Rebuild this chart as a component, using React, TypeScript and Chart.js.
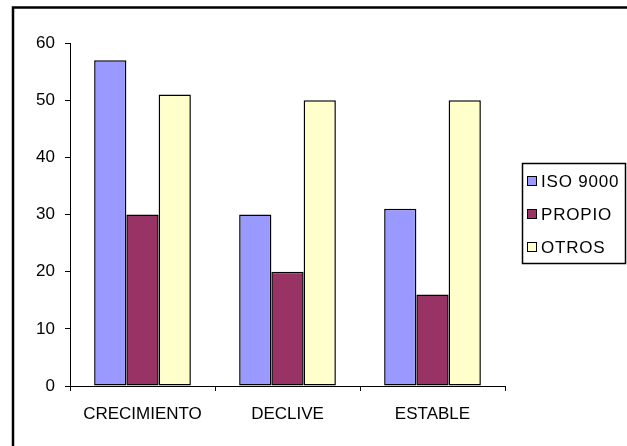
import React, { useEffect, useRef } from "react";
import { Chart, registerables } from "chart.js";

Chart.register(...registerables);

const categories = ["CRECIMIENTO", "DECLIVE", "ESTABLE"];
const seriesNames = ["ISO 9000", "PROPIO", "OTROS"];
const iso9000 = [57, 30, 31];
const propio = [30, 20, 16];
const otros = [51, 50, 50];
const yTicks = [0, 10, 20, 30, 40, 50, 60];
const colors = ["#9999FF", "#993366", "#FFFFCC"];

const FONT = "Liberation Sans, Arial, sans-serif";

const frameAndLegend = {
  id: "frameAndLegend",
  beforeDraw(chart: any) {
    const ctx = chart.ctx;
    ctx.save();
    ctx.fillStyle = "#ffffff";
    ctx.fillRect(0, 0, chart.width, chart.height);
    ctx.restore();
  },
  afterDraw(chart: any) {
    const ctx = chart.ctx;
    ctx.save();
    // outer frame (top and left visible)
    ctx.strokeStyle = "#000";
    ctx.lineWidth = 2.5;
    ctx.beginPath();
    ctx.moveTo(13, chart.height + 5);
    ctx.lineTo(13, 7.5);
    ctx.lineTo(chart.width + 5, 7.5);
    ctx.stroke();

    // legend box
    const lx = 522, ly = 163, lw = 103, lh = 100;
    ctx.lineWidth = 1.5;
    ctx.strokeRect(lx + 0.5, ly + 0.5, lw, lh);
    const rows = [181, 214, 247];
    ctx.font = `17px ${FONT}`;
    (ctx as any).letterSpacing = "0.8px";
    ctx.textBaseline = "middle";
    ctx.textAlign = "left";
    chart.data.datasets.forEach((ds: any, i: number) => {
      const y = rows[i];
      ctx.fillStyle = ds.backgroundColor;
      ctx.fillRect(527, y - 4.5, 9, 9);
      ctx.lineWidth = 1;
      ctx.strokeStyle = "#000";
      ctx.strokeRect(527.5, y - 4.5, 9, 9);
      ctx.fillStyle = "#000";
      ctx.fillText(ds.label, 541, y + 1);
    });
    ctx.restore();
  },
};

export default function App() {
  const ref = useRef<HTMLCanvasElement | null>(null);
  useEffect(() => {
    if (!ref.current) return;
    const values = [iso9000, propio, otros];
    const chart = new Chart(ref.current, {
      type: "bar",
      data: {
        labels: categories,
        datasets: seriesNames.map((name, i) => ({
          label: name,
          data: values[i],
          backgroundColor: colors[i],
          borderColor: "#000",
          borderWidth: 1.5,
          borderSkipped: false,
          categoryPercentage: 0.667,
          barPercentage: 1.0,
        })),
      },
      options: {
        responsive: false,
        animation: false,
        layout: { padding: { left: 0, right: 122, top: 43, bottom: 0 } },
        plugins: {
          legend: { display: false },
          tooltip: { enabled: false },
        },
        scales: {
          x: {
            afterFit: (s: any) => {
              s.height = 60;
            },
            border: { display: true, color: "#000", width: 1 },
            grid: {
              display: true,
              drawOnChartArea: false,
              drawTicks: true,
              tickLength: 5,
              color: "#000",
              offset: true,
            },
            ticks: {
              color: "#000",
              font: { family: FONT, size: 17 },
              padding: 13,
              maxRotation: 0,
            },
          },
          y: {
            min: 0,
            max: 60,
            afterFit: (s: any) => {
              s.width = 70;
            },
            afterBuildTicks: (s: any) => {
              s.ticks = yTicks.map((v) => ({ value: v }));
            },
            border: { display: true, color: "#000", width: 1 },
            grid: {
              display: true,
              drawOnChartArea: false,
              drawTicks: true,
              tickLength: 5,
              color: "#000",
            },
            ticks: {
              color: "#000",
              font: { family: FONT, size: 17 },
              padding: 10,
              stepSize: 10,
            },
          },
        },
      },
      plugins: [frameAndLegend],
    });
    return () => chart.destroy();
  }, []);
  return (
    <div style={{ position: "fixed", left: 0, top: 0, width: 627, height: 446, background: "#fff" }}>
      <canvas ref={ref} width={627} height={446} style={{ display: "block", width: 627, height: 446 }} />
    </div>
  );
}
